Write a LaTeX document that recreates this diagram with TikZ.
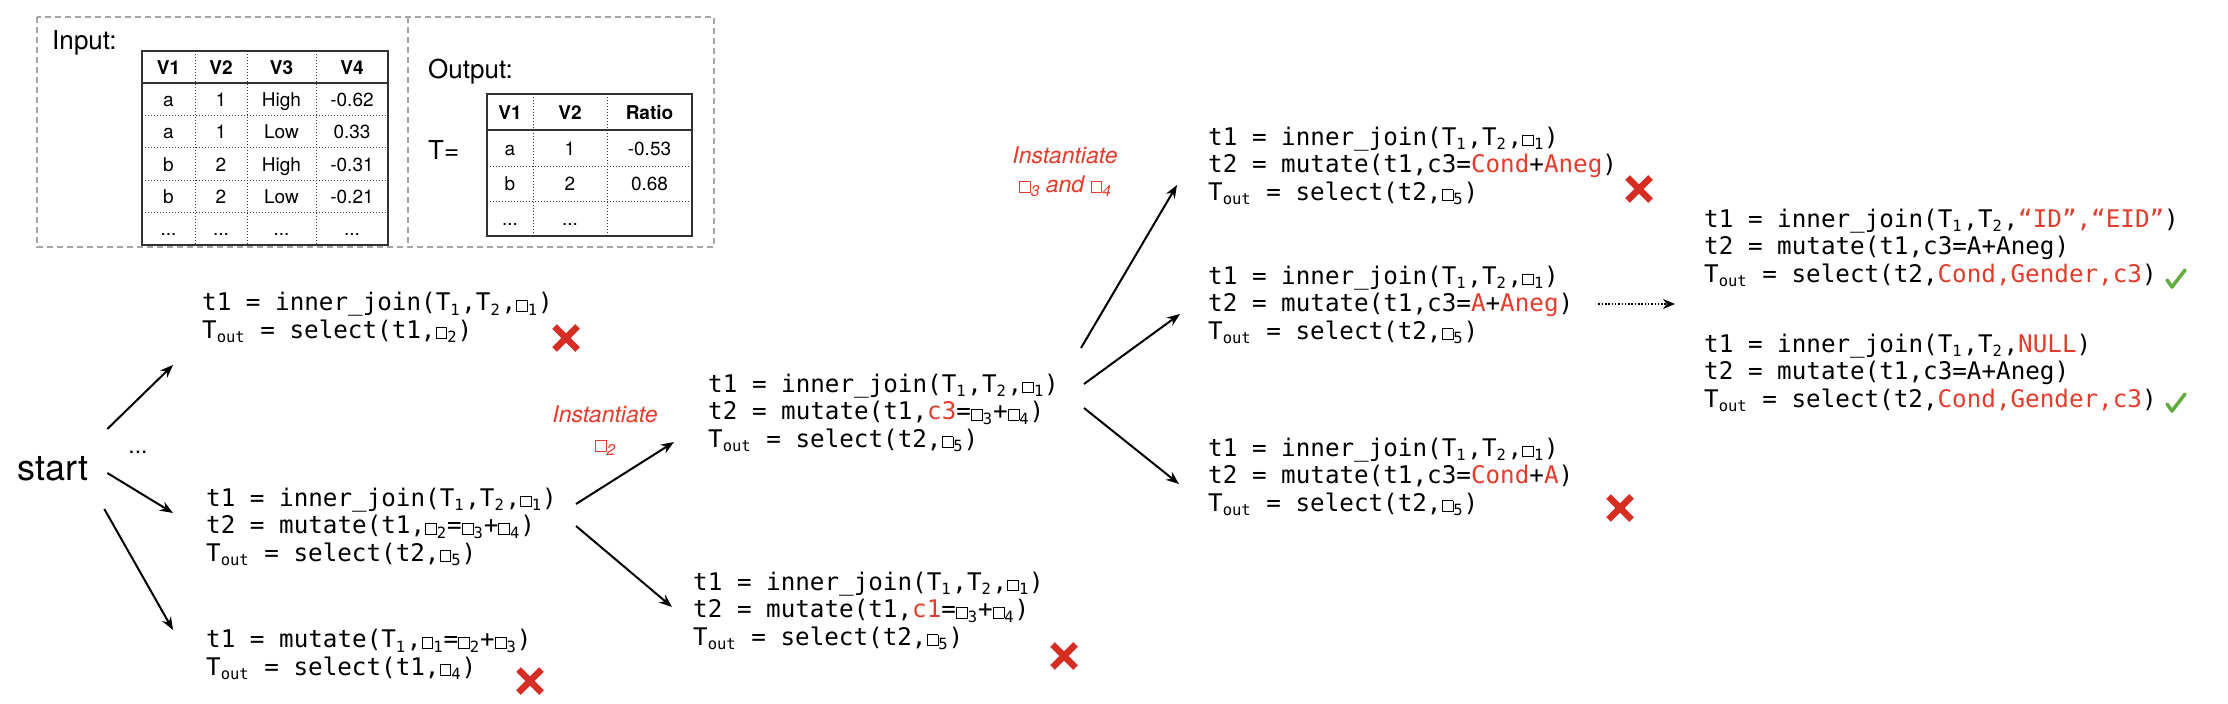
\documentclass[tikz,border=0pt]{standalone}
\usepackage{fontspec}
\setmainfont{TeX Gyre Heros}
\newfontfamily\codefont{DejaVu Sans Mono}
\usetikzlibrary{arrows.meta,calc}
\definecolor{myred}{RGB}{226,60,45}
\definecolor{crossred}{RGB}{214,46,36}
\definecolor{okgreen}{RGB}{96,172,60}
\definecolor{tabline}{RGB}{50,50,50}
\definecolor{boxgrey}{RGB}{165,165,165}
\newcommand\sbo[1]{\raisebox{-4.5pt}{\fontsize{15.5}{15.5}\selectfont #1}}
\newcommand\sbs[1]{\makebox[11pt][l]{\sbo{#1}}}
\newcommand\sbout{\makebox[29pt][l]{\sbo{out}}}
\newcommand\hole{{\setlength\fboxsep{0pt}\setlength\fboxrule{0.9pt}\fbox{\rule{0pt}{10pt}\hspace{10pt}}}}
\newcommand\hs[1]{\makebox[22pt][l]{\hole\sbo{#1}}}
\newcommand\rd[1]{\textcolor{myred}{#1}}
\newcommand\tdots{.\kern0pt.\kern0pt.}
\begin{document}
\begin{tikzpicture}[x=1pt,y=-1pt,
  code/.style={font=\codefont\fontsize{24.25}{27.4}\selectfont, align=left, anchor=west, inner sep=0pt},
  arr/.style={-{Stealth[length=13pt,width=10pt]}, line width=2pt},
  dotarr/.style={-{Stealth[length=12pt,width=10pt]}, line width=2pt, dash pattern=on 1.5pt off 1.8pt},
  lab/.style={inner sep=0pt},
  biglab/.style={inner sep=0pt, anchor=west, font=\fontsize{26}{26}\selectfont},
  inst/.style={inner sep=0pt, font=\itshape\fontsize{23}{28.5}\selectfont, text=myred, align=center},
  tabtxt/.style={font=\fontsize{19}{19}\selectfont, inner sep=0pt, anchor=base},
  tabhead/.style={font=\bfseries\fontsize{19}{19}\selectfont, inner sep=0pt, anchor=base},
  tabframe/.style={draw=tabline, line width=1.3pt},
  dotline/.style={draw=tabline, line width=1pt, dash pattern=on 1.2pt off 1.8pt},
  iobox/.style={draw=boxgrey, line width=1.3pt, dash pattern=on 6pt off 4pt},
  pics/crossmark/.style={code={\draw[crossred, line width=6.5pt] (-11.5,-11.5) -- (11.5,11.5) (-11.5,11.5) -- (11.5,-11.5);}},
  pics/tickmark/.style={code={\draw[okgreen, line width=3.5pt, line cap=round, line join=round] (-9,0) -- (-4,7) -- (9,-10);}}
]
\fill[white] (0,0) rectangle (2228,704);
\useasboundingbox (0,0) rectangle (2228,704);

% input / output box
\path[iobox] (37,17) rectangle (714,247);
\path[iobox] (408,17) -- (408,247);
\node[biglab] (inlab) at (52,43) {Input:};
\node[biglab] (outlab) at (428,72) {Output:};
\node[biglab] (teq) at (428,150) {T=};

% input table
\path[tabframe] (142,51) rectangle (388,245);
\path[tabframe] (142,83) -- (388,83);
\path[dotline] (195,51) -- (195,245) (247,51) -- (247,245) (316,51) -- (316,245);
\path[dotline] (142,115.4) -- (388,115.4) (142,147.8) -- (388,147.8) (142,180.2) -- (388,180.2) (142,212.6) -- (388,212.6);
\node[tabhead] (in-0-1) at (168.5,74) {V1};
\node[tabhead] (in-0-2) at (221,74) {V2};
\node[tabhead] (in-0-3) at (281.5,74) {V3};
\node[tabhead] (in-0-4) at (352,74) {V4};
\foreach \r/\y/\a/\b/\cc/\d in {1/106.2/a/1/High/-0.62, 2/138.6/a/1/Low/0.33, 3/171/b/2/High/-0.31, 4/203.4/b/2/Low/-0.21, 5/235.8/\tdots/\tdots/\tdots/\tdots}{
  \node[tabtxt] (in-\r-1) at (168.5,\y) {\a};
  \node[tabtxt] (in-\r-2) at (221,\y) {\b};
  \node[tabtxt] (in-\r-3) at (281.5,\y) {\cc};
  \node[tabtxt] (in-\r-4) at (352,\y) {\d};
}

% output table
\path[tabframe] (487,94) rectangle (692,236);
\path[tabframe] (487,130) -- (692,130);
\path[dotline] (533,94) -- (533,236) (607,94) -- (607,236);
\path[dotline] (487,166) -- (692,166) (487,201) -- (692,201);
\node[tabhead] (out-0-1) at (510,119) {V1};
\node[tabhead] (out-0-2) at (570,119) {V2};
\node[tabhead] (out-0-3) at (649.5,119) {Ratio};
\node[tabtxt] (out-1-1) at (510,155) {a};
\node[tabtxt] (out-1-2) at (570,155) {1};
\node[tabtxt] (out-1-3) at (649.5,155) {-0.53};
\node[tabtxt] (out-2-1) at (510,190.5) {b};
\node[tabtxt] (out-2-2) at (570,190.5) {2};
\node[tabtxt] (out-2-3) at (649.5,190.5) {0.68};
\node[tabtxt] (out-3-1) at (510,225.5) {\tdots};
\node[tabtxt] (out-3-2) at (570,225.5) {\tdots};

% start
\node[lab, anchor=west, font=\fontsize{36}{36}\selectfont] (start) at (17,469) {start};
\node[lab, font=\fontsize{23}{23}\selectfont] (dots) at (138,452) {\tdots};

% code blocks
\node[code] (A) at (202,317.5) {t1 = inner\_join(T\sbs{1},T\sbs{2},\hs{1})\\T\sbout{} = select(t1,\hs{2})};
\node[code] (B) at (206,527) {t1 = inner\_join(T\sbs{1},T\sbs{2},\hs{1})\\t2 = mutate(t1,\hs{2}=\hs{3}+\hs{4})\\T\sbout{} = select(t2,\hs{5})};
\node[code] (C) at (206,654.5) {t1 = mutate(T\sbs{1},\hs{1}=\hs{2}+\hs{3})\\T\sbout{} = select(t1,\hs{4})};
\node[code] (D) at (708,413) {t1 = inner\_join(T\sbs{1},T\sbs{2},\hs{1})\\t2 = mutate(t1,\rd{c3}=\hs{3}+\hs{4})\\T\sbout{} = select(t2,\hs{5})};
\node[code] (E) at (693,611) {t1 = inner\_join(T\sbs{1},T\sbs{2},\hs{1})\\t2 = mutate(t1,\rd{c1}=\hs{3}+\hs{4})\\T\sbout{} = select(t2,\hs{5})};
\node[code] (F) at (1208,166) {t1 = inner\_join(T\sbs{1},T\sbs{2},\hs{1})\\t2 = mutate(t1,c3=\rd{Cond}+\rd{Aneg})\\T\sbout{} = select(t2,\hs{5})};
\node[code] (G) at (1208,305) {t1 = inner\_join(T\sbs{1},T\sbs{2},\hs{1})\\t2 = mutate(t1,c3=\rd{A}+\rd{Aneg})\\T\sbout{} = select(t2,\hs{5})};
\node[code] (H) at (1208,477) {t1 = inner\_join(T\sbs{1},T\sbs{2},\hs{1})\\t2 = mutate(t1,c3=\rd{Cond}+\rd{A})\\T\sbout{} = select(t2,\hs{5})};
\node[code] (I) at (1704,248) {t1 = inner\_join(T\sbs{1},T\sbs{2},\rd{“ID”,“EID”})\\t2 = mutate(t1,c3=A+Aneg)\\T\sbout{} = select(t2,\rd{Cond,Gender,c3})};
\node[code] (J) at (1704,373) {t1 = inner\_join(T\sbs{1},T\sbs{2},\rd{NULL})\\t2 = mutate(t1,c3=A+Aneg)\\T\sbout{} = select(t2,\rd{Cond,Gender,c3})};
\coordinate (sol) at ($(I.west)!0.5!(J.west)$);

% labels
\node[inst] (inst1) at (605,430.5) {Instantiate\\\hole\sbo{2}};
\node[inst] (inst2) at (1065,172) {Instantiate\\\hole\sbo{3} and \hole\sbo{4}};

% arrows
\draw[arr] ([shift={(19,-40)}]start.east) -- ([shift={(-29,47.5)}]A.west);
\draw[arr] ([shift={(19,4)}]start.east) -- ([shift={(-33,-14)}]B.west);
\draw[arr] ([shift={(16,40)}]start.east) -- ([shift={(-33,-24.5)}]C.west);
\draw[arr] ([shift={(19,-23)}]B.east) -- ([shift={(-34,29)}]D.west);
\draw[arr] ([shift={(19,-1)}]B.east) -- ([shift={(-21,-4)}]E.west);
\draw[arr] ([shift={(22,-65)}]D.east) -- ([shift={(-31,19)}]F.west);
\draw[arr] ([shift={(25,-29)}]D.east) -- ([shift={(-28,9)}]G.west);
\draw[arr] ([shift={(25,-5)}]D.east) -- ([shift={(-29,7)}]H.west);
\draw[dotarr] ([shift={(25,-1)}]G.east) -- ([shift={(-29,-6.5)}]sol);

% marks
\pic at (566,338) {crossmark};
\pic at (530,681) {crossmark};
\pic at (1064,656) {crossmark};
\pic at (1639,189) {crossmark};
\pic at (1620,508) {crossmark};
\pic at (2176,280) {tickmark};
\pic at (2176,404) {tickmark};
\end{tikzpicture}
\end{document}
